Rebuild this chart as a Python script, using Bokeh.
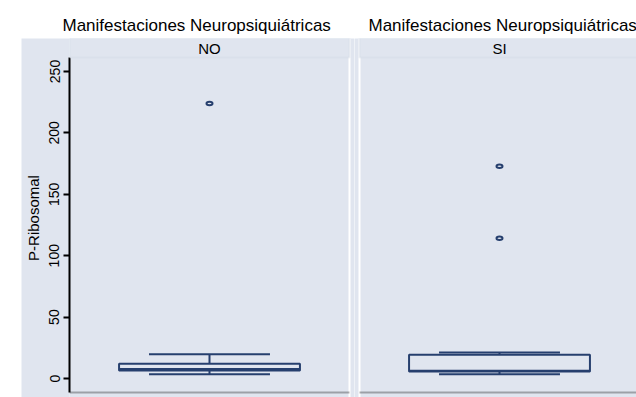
from bokeh.plotting import figure
from bokeh.models import (Range1d, BoxAnnotation, Label, Span, FixedTicker, ColumnDataSource, Title,
                          LinearAxis)
from bokeh.layouts import row
from bokeh.embed import file_html
from bokeh.resources import INLINE

# ---- data ----
groups = ["NO", "SI"]
lower_whisker = [3.5, 3.5]
q1 = [6.5, 5.6]
median = [7.7, 6.3]
q3 = [12.0, 19.3]
upper_whisker = [19.8, 21.2]
outliers_no = [224.0]
outliers_si = [172.9, 114.3]
y_ticks = [0, 50, 100, 150, 200, 250]
panel_title = "Manifestaciones Neuropsiquiátricas"
y_label = "P-Ribosomal"

# ---- style ----
BG = "#E0E5EF"
NAVY = "#263F6E"
STRIP_LINE = "#CDD5E2"
FONT = "Liberation Sans"
H = 397
TOP = 38
PX = 1.228                       # pixels per unit on the y scale
Y_END = (378 - 38) / PX          # frame top (strip top)
Y_START = -(397 - 378) / PX      # canvas bottom
AX_LO = -(392 - 378) / PX        # x-axis line
AX_HI = (378 - 57) / PX          # plot region top (strip bottom)
STRIP_MID = (378 - 47.5) / PX
BOX_HALF = 0.323
CAP_HALF = 0.216


def make_panel(i, width, min_left, x_start, x_end, show_y, title_offset, outl):
    p = figure(width=width, height=H, x_range=Range1d(x_start, x_end), y_range=Range1d(Y_START, Y_END),
               output_backend="svg", toolbar_location=None,
               min_border_left=min_left, min_border_right=0,
               min_border_top=TOP, min_border_bottom=0,
               y_axis_location="left" if show_y else None, x_axis_location=None,
               background_fill_color=BG, border_fill_color="white", outline_line_color=None)
    p.grid.grid_line_color = None
    p.title = Title(text=panel_title, align="left", offset=title_offset, text_font=FONT,
                    text_font_size="17px", text_font_style="normal", text_color="black",
                    vertical_align="bottom", standoff=8)
    if show_y:
        ya = p.yaxis[0]
        ya.ticker = FixedTicker(ticks=y_ticks)
        ya.bounds = (AX_LO, AX_HI)
        ya.minor_tick_out = 0
        ya.minor_tick_in = 0
        ya.major_tick_in = 0
        ya.major_tick_out = 6
        ya.major_tick_line_width = 2
        ya.major_tick_line_color = "black"
        ya.axis_line_color = "black"
        ya.axis_line_width = 2
        ya.major_label_orientation = "vertical"
        ya.major_label_text_font = FONT
        ya.major_label_text_font_size = "14px"
        ya.major_label_text_color = "black"
        ya.major_label_standoff = 4
        ya.axis_label = y_label
        ya.axis_label_text_font = FONT
        ya.axis_label_text_font_size = "15px"
        ya.axis_label_text_font_style = "normal"
        ya.axis_label_text_color = "black"
        ya.axis_label_standoff = 5
        ya.background_fill_color = BG
        # empty outer axis: only widens the grey region to the left
        pad = LinearAxis(ticker=FixedTicker(ticks=[]), major_tick_out=15, major_tick_in=0,
                         minor_tick_out=0, minor_tick_in=0, major_tick_line_color=None,
                         axis_line_color=None, major_label_standoff=0, background_fill_color=BG)
        p.add_layout(pad, "left")

    # white panel edge
    edge = 1.0 if i == 0 else 0.0
    p.add_layout(Span(location=edge, dimension="height", line_color="white", line_width=2, level="underlay"))
    right = 1.0 if i == 0 else x_end + 0.02
    # strip
    p.add_layout(BoxAnnotation(left=0, right=right, bottom=AX_HI, top=Y_END + 1,
                               fill_color=BG, fill_alpha=1, line_color=STRIP_LINE, line_width=2,
                               level="annotation"))
    p.add_layout(Label(x=0.5, y=STRIP_MID, text=groups[i], text_align="center",
                       text_baseline="middle", text_font=FONT, text_font_size="15px", text_color="black"))
    # bottom axis line
    p.add_layout(BoxAnnotation(left=0, right=right, bottom=AX_LO, top=AX_LO,
                               fill_color=None, line_color="black", line_width=2, level="annotation"))

    src = ColumnDataSource(dict(
        x=[0.5], lw=[lower_whisker[i]], q1=[q1[i]], med=[median[i]], q3=[q3[i]], uw=[upper_whisker[i]],
        bx0=[0.5 - BOX_HALF], bx1=[0.5 + BOX_HALF], cx0=[0.5 - CAP_HALF], cx1=[0.5 + CAP_HALF]))
    p.segment(x0="x", x1="x", y0="q3", y1="uw", source=src, line_color=NAVY, line_width=2)
    p.segment(x0="x", x1="x", y0="q1", y1="lw", source=src, line_color=NAVY, line_width=2)
    p.vbar(x="x", width=2 * BOX_HALF, bottom="q1", top="q3", source=src,
           fill_color=BG, line_color=NAVY, line_width=2)
    p.segment(x0="bx0", x1="bx1", y0="med", y1="med", source=src, line_color=NAVY, line_width=2)
    p.segment(x0="cx0", x1="cx1", y0="uw", y1="uw", source=src, line_color=NAVY, line_width=2)
    p.segment(x0="cx0", x1="cx1", y0="lw", y1="lw", source=src, line_color=NAVY, line_width=2)
    osrc = ColumnDataSource(dict(x=[0.5] * len(outl), y=outl))
    p.ellipse(x="x", y="y", width=6, height=3.5, width_units="screen", height_units="screen",
              source=osrc, fill_color=None, line_color=NAVY, line_width=2)
    return p


# panel 1 frame: image x 69..354 (panel 69..349); panel 2 frame: 354..636 (panel starts 359)
p1 = make_panel(0, 354, 69, 0.0, 285 / 280, True, -7, outliers_no)
p2 = make_panel(1, 282, 0, -5 / 280, 277 / 280, False, 14, outliers_si)

layout = row(p1, p2)
open("out.html", "w").write(file_html(layout, INLINE))
